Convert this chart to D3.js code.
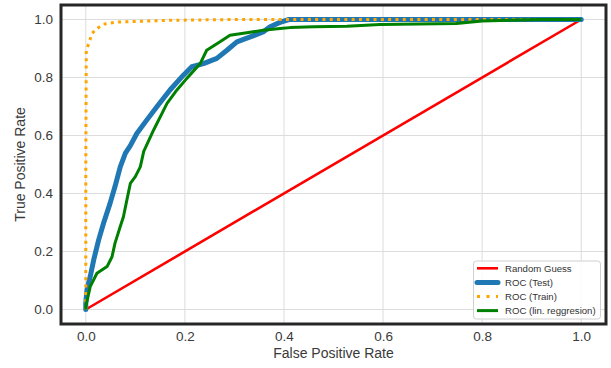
<!DOCTYPE html>
<html><head><meta charset="utf-8">
<script src="https://cdn.jsdelivr.net/npm/d3@7"></script>
<style>body{margin:0;background:#fff}svg{display:block}text{font-family:"Liberation Sans",Arial,sans-serif}</style>
</head><body><svg id="c" width="611" height="368"></svg>
<script>
const xTicks = [0, 0.2, 0.4, 0.6, 0.8, 1.0];
const yTicks = [0, 0.2, 0.4, 0.6, 0.8, 1.0];
const randomFpr = [0, 1];
const randomTpr = [0, 1];
const testFpr = [0,0,0.0024,0.009,0.016,0.026,0.036,0.049,0.059,0.0696,0.080,0.090,0.103,0.123,0.1435,0.170,0.197,0.214,0.2375,0.2645,0.285,0.305,0.332,0.358,0.372,0.392,0.41,1];
const testTpr = [0,0.022,0.068,0.114,0.171,0.240,0.298,0.366,0.424,0.492,0.539,0.565,0.607,0.653,0.699,0.757,0.808,0.837,0.848,0.866,0.894,0.923,0.940,0.957,0.975,0.99,1.0,1];
const trainFpr = [0,0,0.001,0.006,0.0125,0.0226,0.036,0.063,0.11,0.164,0.3,1];
const trainTpr = [0,0.5,0.894,0.917,0.952,0.969,0.984,0.991,0.994,0.997,1.0,1];
const linFpr = [0,0,0.009,0.0225,0.043,0.053,0.059,0.0696,0.076,0.083,0.090,0.10,0.110,0.117,0.137,0.164,0.184,0.204,0.231,0.244,0.271,0.291,0.325,0.358,0.392,0.412,0.46,0.527,0.594,0.748,0.80,0.916,1];
const linTpr = [0,0.01,0.079,0.125,0.148,0.182,0.229,0.286,0.320,0.378,0.435,0.458,0.492,0.545,0.619,0.711,0.757,0.797,0.848,0.894,0.923,0.946,0.954,0.963,0.969,0.972,0.975,0.977,0.983,0.986,0.995,1.0,1];
const seriesNames = ["Random Guess", "ROC (Test)", "ROC (Train)", "ROC (lin. reggresion)"];

const svg = d3.select("#c");
const L = 61, R = 606, T = 5, B = 324;
const x = d3.scaleLinear().domain([-0.05, 1.05]).range([L, R]);
const y = d3.scaleLinear().domain([-0.05, 1.05]).range([B, T]);

// grid
const g = svg.append("g");
g.selectAll(".gx").data(xTicks).join("line").attr("x1", d => x(d)).attr("x2", d => x(d))
  .attr("y1", T).attr("y2", B).attr("stroke", "#dcdcdc").attr("stroke-width", 1);
g.selectAll(".gy").data(yTicks).join("line").attr("y1", d => y(d)).attr("y2", d => y(d))
  .attr("x1", L).attr("x2", R).attr("stroke", "#dcdcdc").attr("stroke-width", 1);

// axes (labels only)
const xa = svg.append("g").attr("transform", `translate(0,${B})`)
  .call(d3.axisBottom(x).tickValues(xTicks).tickFormat(d3.format(".1f")).tickSize(0).tickPadding(7));
const ya = svg.append("g").attr("transform", `translate(${L},0)`)
  .call(d3.axisLeft(y).tickValues(yTicks).tickFormat(d3.format(".1f")).tickSize(0).tickPadding(8));
[xa, ya].forEach(a => {
  a.select(".domain").remove();
  a.selectAll("text").attr("font-size", 13.5).attr("fill", "#3a3a3a").attr("font-family", "Liberation Sans, Arial, sans-serif");
});

const line = (xs, ys) => d3.line().x(i => x(xs[i])).y(i => y(ys[i]))(d3.range(xs.length));
const plot = svg.append("g");
plot.append("path").attr("d", line(randomFpr, randomTpr)).attr("fill", "none").attr("stroke", "red").attr("stroke-width", 2.6);
plot.append("path").attr("d", line(testFpr, testTpr)).attr("fill", "none").attr("stroke", "#1f77b4").attr("stroke-width", 5).attr("stroke-linejoin", "round").attr("stroke-linecap", "round");
plot.append("path").attr("d", line(trainFpr, trainTpr)).attr("fill", "none").attr("stroke", "orange").attr("stroke-width", 3).attr("stroke-dasharray", "3,4.3");
plot.append("path").attr("d", line(linFpr, linTpr)).attr("fill", "none").attr("stroke", "green").attr("stroke-width", 3).attr("stroke-linejoin", "round");

// frame
svg.append("rect").attr("x", L).attr("y", T).attr("width", R - L).attr("height", B - T)
  .attr("fill", "none").attr("stroke", "#262626").attr("stroke-width", 3);

// axis titles
svg.append("text").attr("x", (L + R) / 2).attr("y", 358).attr("text-anchor", "middle")
  .attr("font-size", 14).attr("fill", "#3a3a3a").text("False Positive Rate");
svg.append("text").attr("transform", `translate(25,${(T + B) / 2}) rotate(-90)`).attr("text-anchor", "middle")
  .attr("font-size", 14).attr("fill", "#3a3a3a").text("True Positive Rate");

// legend
const lg = svg.append("g");
lg.append("rect").attr("x", 473.5).attr("y", 261).attr("width", 127).attr("height", 58).attr("rx", 3)
  .attr("fill", "rgba(255,255,255,0.85)").attr("stroke", "#d0d0d0").attr("stroke-width", 1);
const styles = [
  {c: "red", w: 2.6, d: null},
  {c: "#1f77b4", w: 5, d: null},
  {c: "orange", w: 3, d: "3,6.5"},
  {c: "green", w: 3, d: null}
];
seriesNames.forEach((n, i) => {
  const yy = 268.3 + i * 14.1;
  const s = styles[i];
  const ln = lg.append("line").attr("x1", 477).attr("x2", 498).attr("y1", yy).attr("y2", yy)
    .attr("stroke", s.c).attr("stroke-width", s.w);
  if (s.d) ln.attr("stroke-dasharray", s.d);
  if (i === 1) ln.attr("stroke-linecap", "round");
  lg.append("text").attr("x", 505).attr("y", yy + 3.4).attr("font-size", 9.6).attr("fill", "#333").text(n);
});
</script></body></html>
